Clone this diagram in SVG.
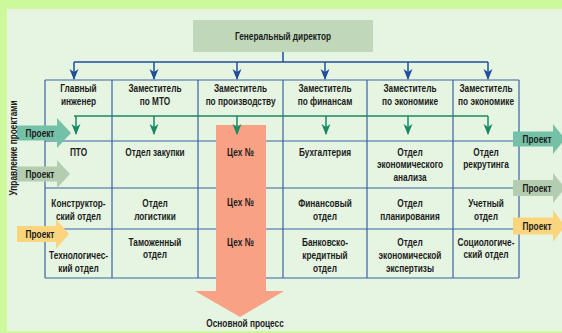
<svg xmlns="http://www.w3.org/2000/svg" width="562" height="333" viewBox="0 0 562 333">
<style>
.t{font-family:"Liberation Sans",Arial,sans-serif;font-size:11.5px;font-weight:bold;fill:#1c1c1c;text-anchor:middle;transform-box:fill-box;transform-origin:center;transform:scaleX(0.72)}
.v{font-family:"Liberation Sans",Arial,sans-serif;font-size:11.5px;font-weight:bold;fill:#1c1c1c;text-anchor:middle}
.g{stroke:#3a62a6;stroke-width:1.2;fill:none}
.bl{stroke:#1f4f9c;stroke-width:1.5;fill:none}
.gr{stroke:#1a8a66;stroke-width:1.5;fill:none}
.teal{fill:#74c1a7}
.gray{fill:#b4ccb0}
.yel{fill:#fbd57d}
</style>
<defs>
<marker id="ab" viewBox="0 -5 11 10" refX="10" refY="0" markerWidth="11" markerHeight="10" markerUnits="userSpaceOnUse" orient="auto">
<path d="M0,-4.5 L11,0 L0,4.5 L3,0 Z" fill="#1f4f9c"/>
</marker>
<marker id="ag" viewBox="0 -5 11 10" refX="10" refY="0" markerWidth="11" markerHeight="10" markerUnits="userSpaceOnUse" orient="auto">
<path d="M0,-4.5 L11,0 L0,4.5 L3,0 Z" fill="#1a8a66"/>
</marker>
</defs>
<rect x="0" y="0" width="562" height="333" fill="#cdf99d"/>
<rect x="7" y="9" width="555" height="322" fill="#e6f4e2"/>

<g id="table">
<path class="g" d="M45,80H519M45,141H519M45,188H519M45,229H519M45,278H519M45,80V278M112,80V278M198,80V278M283,80V278M367,80V278M453,80V278M519,80V278"/>
</g>

<g id="main-process">
<polygon points="216,125 266,125 266,291 284,291 240,317 195,291 216,291" fill="#f9a184"/>
<text class="t" x="245" y="327">Основной процесс</text>
</g>

<g id="gen-director">
<rect x="193" y="20" width="180" height="32" fill="#c0d8b9"/>
<text class="t" x="283" y="40">Генеральный директор</text>
</g>

<g id="c-engineer"><text class="t" x="78.5" y="92">Главный</text><text class="t" x="78.5" y="105">инженер</text></g>
<g id="c-mto"><text class="t" x="155" y="92">Заместитель</text><text class="t" x="155" y="105">по МТО</text></g>
<g id="c-prod"><text class="t" x="240.5" y="92">Заместитель</text><text class="t" x="240.5" y="105">по производству</text></g>
<g id="c-fin"><text class="t" x="325" y="92">Заместитель</text><text class="t" x="325" y="105">по финансам</text></g>
<g id="c-eco1"><text class="t" x="410" y="92">Заместитель</text><text class="t" x="410" y="105">по экономике</text></g>
<g id="c-eco2"><text class="t" x="486" y="92">Заместитель</text><text class="t" x="486" y="105">по экономике</text></g>

<g id="c-pto"><text class="t" x="78.5" y="156">ПТО</text></g>
<g id="c-zak"><text class="t" x="155" y="156">Отдел закупки</text></g>
<g id="c-ceh1"><text class="t" x="240.5" y="156">Цех №</text></g>
<g id="c-buh"><text class="t" x="325" y="156">Бухгалтерия</text></g>
<g id="c-ekan"><text class="t" x="410" y="156">Отдел</text><text class="t" x="410" y="168.5">экономического</text><text class="t" x="410" y="181">анализа</text></g>
<g id="c-rek"><text class="t" x="486" y="156">Отдел</text><text class="t" x="486" y="168.5">рекрутинга</text></g>

<g id="c-konstr"><text class="t" x="78.5" y="207">Конструктор-</text><text class="t" x="78.5" y="220">ский отдел</text></g>
<g id="c-log"><text class="t" x="155" y="207">Отдел</text><text class="t" x="155" y="220">логистики</text></g>
<g id="c-ceh2"><text class="t" x="240.5" y="206">Цех №</text></g>
<g id="c-finotd"><text class="t" x="325" y="207">Финансовый</text><text class="t" x="325" y="220">отдел</text></g>
<g id="c-plan"><text class="t" x="410" y="207">Отдел</text><text class="t" x="410" y="220">планирования</text></g>
<g id="c-uch"><text class="t" x="486" y="207">Учетный</text><text class="t" x="486" y="220">отдел</text></g>

<g id="c-tech"><text class="t" x="78.5" y="259">Технологичес-</text><text class="t" x="78.5" y="272">кий отдел</text></g>
<g id="c-tam"><text class="t" x="155" y="246">Таможенный</text><text class="t" x="155" y="258.5">отдел</text></g>
<g id="c-ceh3"><text class="t" x="240.5" y="246">Цех №</text></g>
<g id="c-bank"><text class="t" x="325" y="246">Банковско-</text><text class="t" x="325" y="259">кредитный</text><text class="t" x="325" y="272">отдел</text></g>
<g id="c-ekexp"><text class="t" x="410" y="246">Отдел</text><text class="t" x="410" y="259">экономической</text><text class="t" x="410" y="272">экспертизы</text></g>
<g id="c-soc"><text class="t" x="486" y="246">Социологиче-</text><text class="t" x="486" y="258.5">ский отдел</text></g>

<g id="connectors">
<path class="bl" d="M283,52V62M74,62H488"/>
<path class="bl" d="M74,62V79" marker-end="url(#ab)"/>
<path class="bl" d="M154,62V79" marker-end="url(#ab)"/>
<path class="bl" d="M237,62V79" marker-end="url(#ab)"/>
<path class="bl" d="M325,62V79" marker-end="url(#ab)"/>
<path class="bl" d="M408,62V79" marker-end="url(#ab)"/>
<path class="bl" d="M488,62V79" marker-end="url(#ab)"/>
<path class="gr" d="M74,116H488"/>
<path class="gr" d="M76,116V134" marker-end="url(#ag)"/>
<path class="gr" d="M154,116V134" marker-end="url(#ag)"/>
<path class="gr" d="M237,116V134" marker-end="url(#ag)"/>
<path class="gr" d="M326,116V134" marker-end="url(#ag)"/>
<path class="gr" d="M408,116V134" marker-end="url(#ag)"/>
<path class="gr" d="M488,116V134" marker-end="url(#ag)"/>
</g>

<g id="proj-l1">
<polygon class="teal" points="17,125.5 57,125.5 57,118 71,133 57,148 57,140.5 17,140.5"/>
<text class="t" x="40" y="137">Проект</text>
</g>
<g id="proj-l2">
<polygon class="gray" points="17,166.5 57,166.5 57,160 70,174 57,188 57,181.5 17,181.5"/>
<text class="t" x="40" y="178">Проект</text>
</g>
<g id="proj-l3">
<polygon class="yel" points="17,226 56,226 56,219 69,234 56,249 56,242 17,242"/>
<text class="t" x="40" y="238">Проект</text>
</g>
<g id="proj-r1">
<polygon class="teal" points="513,131.5 553,131.5 553,124 565,139 553,154 553,146.5 513,146.5"/>
<text class="t" x="537" y="143">Проект</text>
</g>
<g id="proj-r2">
<polygon class="gray" points="513,180 553,180 553,173 565,188 553,203 553,196 513,196"/>
<text class="t" x="537" y="192">Проект</text>
</g>
<g id="proj-r3">
<polygon class="yel" points="513,217.5 553,217.5 553,210 565,226 553,242 553,234.5 513,234.5"/>
<text class="t" x="537" y="230">Проект</text>
</g>

<g id="side-label">
<text class="v" transform="translate(16.5,148) rotate(-90) scale(0.72,1)">Управление проектами</text>
</g>
</svg>
